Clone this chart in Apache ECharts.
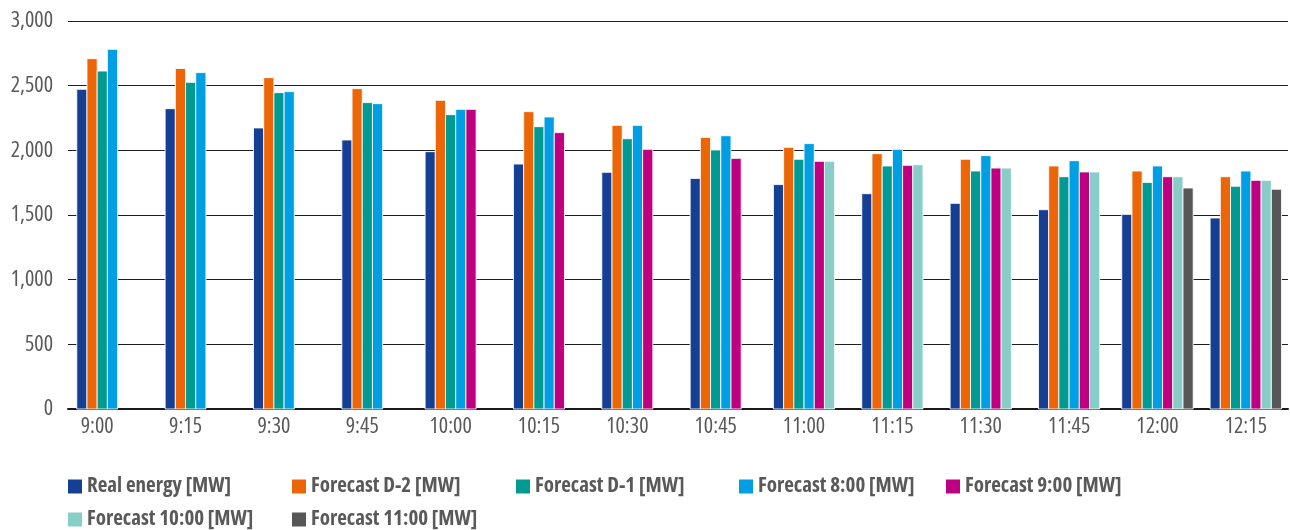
<!DOCTYPE html>
<html>
<head>
<meta charset="utf-8">
<script src="https://cdn.jsdelivr.net/npm/echarts@6/dist/echarts.min.js"></script>
<style>
html,body{margin:0;padding:0;background:#fff;}
#chart{width:1290px;height:530px;}
</style>
</head>
<body>
<div id="chart"></div>
<script>
const categories = ['9:00','9:15','9:30','9:45','10:00','10:15','10:30','10:45','11:00','11:15','11:30','11:45','12:00','12:15'];
const seriesNames = ['Real energy [MW]','Forecast D-2 [MW]','Forecast D-1 [MW]','Forecast 8:00 [MW]','Forecast 9:00 [MW]','Forecast 10:00 [MW]','Forecast 11:00 [MW]'];
const realEnergy = [2472,2322,2173,2080,1990,1894,1830,1783,1735,1665,1590,1541,1505,1477];
const forecastD2 = [2709,2633,2562,2477,2387,2299,2193,2100,2023,1974,1931,1879,1840,1796];
const forecastD1 = [2613,2526,2446,2369,2276,2183,2090,2003,1931,1879,1840,1796,1752,1722];
const forecast800 = [2781,2601,2454,2361,2317,2258,2193,2113,2052,2008,1959,1920,1879,1840];
const forecast900 = [null,null,null,null,2317,2137,2008,1938,1915,1884,1863,1833,1796,1768];
const forecast1000 = [null,null,null,null,null,null,null,null,1915,1889,1863,1833,1796,1768];
const forecast1100 = [null,null,null,null,null,null,null,null,null,null,null,null,1709,1699];
const yTicks = [0,500,1000,1500,2000,2500,3000];

const allSeries = [realEnergy, forecastD2, forecastD1, forecast800, forecast900, forecast1000, forecast1100];
const colors = ['#143F93','#EC6608','#009A93','#009FE3','#BE0080','#89CDC9','#575757'];
const FONT = '"Open Sans", sans-serif';

function renderBar(sIdx) {
  return function (params, api) {
    const ci = api.value(0);
    const v = api.value(1);
    let n = 0, k = 0;
    for (let s = 0; s < allSeries.length; s++) {
      if (allSeries[s][ci] != null) {
        if (s < sIdx) k++;
        n++;
      }
    }
    const base = api.coord([ci, 0]);
    const top = api.coord([ci, v]);
    const band = api.size([1, 0])[0];
    const w = band * 0.1155;
    const x = base[0] - n * w / 2 + k * w;
    return {
      type: 'rect',
      shape: { x: x, y: top[1], width: w, height: base[1] - top[1] },
      style: { fill: api.visual('color'), stroke: 'rgba(255,255,255,0.85)', lineWidth: 1 }
    };
  };
}

const series = seriesNames.map((name, s) => ({
  name: name,
  type: 'custom',
  xAxisIndex: 0,
  yAxisIndex: 0,
  itemStyle: { color: colors[s] },
  encode: { x: 0, y: 1 },
  renderItem: renderBar(s),
  data: allSeries[s].map((v, i) => v == null ? null : [i, v]).filter(d => d != null)
}));

const legendPos = [[68,476],[292,476],[516,476],[739,476],[946,476],[68,509],[292,509]];
const legends = seriesNames.map((name, s) => ({
  data: [name],
  left: legendPos[s][0],
  top: legendPos[s][1],
  icon: 'rect',
  itemWidth: 14,
  itemHeight: 14,
  itemGap: 0,
  padding: 0,
  selectedMode: false,
  textStyle: { fontFamily: FONT, fontSize: 21, fontWeight: 'bold condensed', color: '#595959' }
}));

const option = {
  animation: false,
  color: colors,
  grid: [
    { left: 53, right: 0, top: 21, bottom: 121 },
    { left: 68, right: 2, top: 21, bottom: 121 }
  ],
  legend: legends,
  xAxis: [
    {
      type: 'category', gridIndex: 0, data: categories,
      axisLine: { show: false }, axisTick: { show: false },
      axisLabel: { fontFamily: FONT, fontSize: 22, fontWeight: 'normal condensed', color: '#595959', margin: 7 }
    },
    {
      type: 'category', gridIndex: 1, data: categories,
      axisLine: { show: true, lineStyle: { color: '#1a1a1a', width: 2 } },
      axisTick: { show: false }, axisLabel: { show: false }
    }
  ],
  yAxis: [
    { type: 'value', gridIndex: 0, min: 0, max: 3000, interval: 500, show: false },
    {
      type: 'value', gridIndex: 1, min: yTicks[0], max: yTicks[yTicks.length - 1], interval: 500,
      axisLine: { show: false }, axisTick: { show: false },
      splitLine: { lineStyle: { color: '#1f1f1f', width: 1 } },
      axisLabel: {
        fontFamily: FONT, fontSize: 22, fontWeight: 'normal condensed', color: '#595959', margin: 15,
        formatter: v => v.toLocaleString('en-US')
      }
    }
  ],
  series: series
};

const chart = echarts.init(document.getElementById('chart'), null, { renderer: 'canvas' });
chart.setOption(option);
</script>
</body>
</html>
